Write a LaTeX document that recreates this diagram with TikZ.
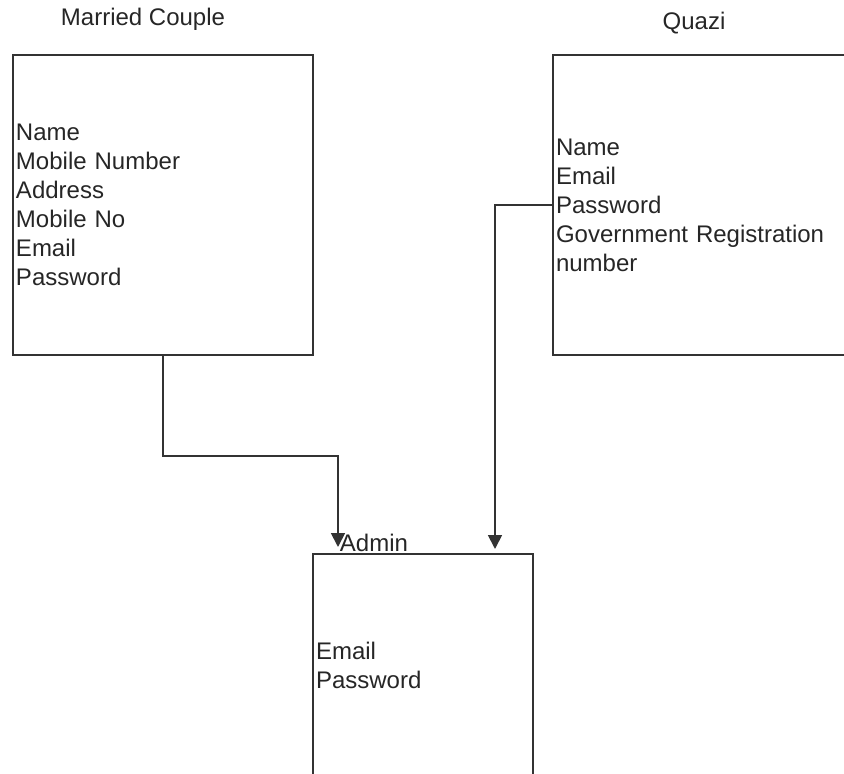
\documentclass[tikz,border=0pt]{standalone}
\usepackage{fontspec}
\setmainfont{Liberation Sans}
\usetikzlibrary{arrows.meta,positioning}
\tikzset{
  entity/.style={draw=black!80, line width=1.8pt, minimum height=300pt, inner xsep=3pt,
    align=left, font=\fontsize{24}{29}\selectfont, text=black!85},
  title/.style={font=\fontsize{24}{29}\selectfont, text=black!85},
  link/.style={draw=black!80, line width=1.8pt, -{Triangle[length=14pt,width=14pt]}}
}
\begin{document}
\begin{tikzpicture}[x=1pt,y=-1pt]
        \useasboundingbox (0,0) rectangle (844,774);
        \clip (0,0) rectangle (844,774);
        % entities
        \node[entity, minimum width=300pt, text width=294pt] (couple) at (163,205)
          {Name\\Mobile Number\\Address\\Mobile No\\Email\\Password};
        \node[entity, minimum width=300pt, text width=294pt] (quazi) at (703,205)
          {Name\\Email\\Password\\Government Registration\\number};
        \node[entity, minimum width=220pt, minimum height=222pt, text width=214pt] (admin) at (423,665)
          {Email\\Password};
        % titles
        \node[title] (coupletitle) at (143,19) {Married Couple};
        \node[title] (quazititle) at (694,23) {Quazi};
        \node[title] (admintitle) at (374,543) {Admin};
        % links
        \coordinate (coupleend) at (338,547);
        \coordinate (quaziend) at (495,549);
        \draw[link] (couple.south) -- ++(0,100) -| (coupleend);
        \draw[link] (quazi.west) -| (quaziend);
      \end{tikzpicture}
\end{document}
